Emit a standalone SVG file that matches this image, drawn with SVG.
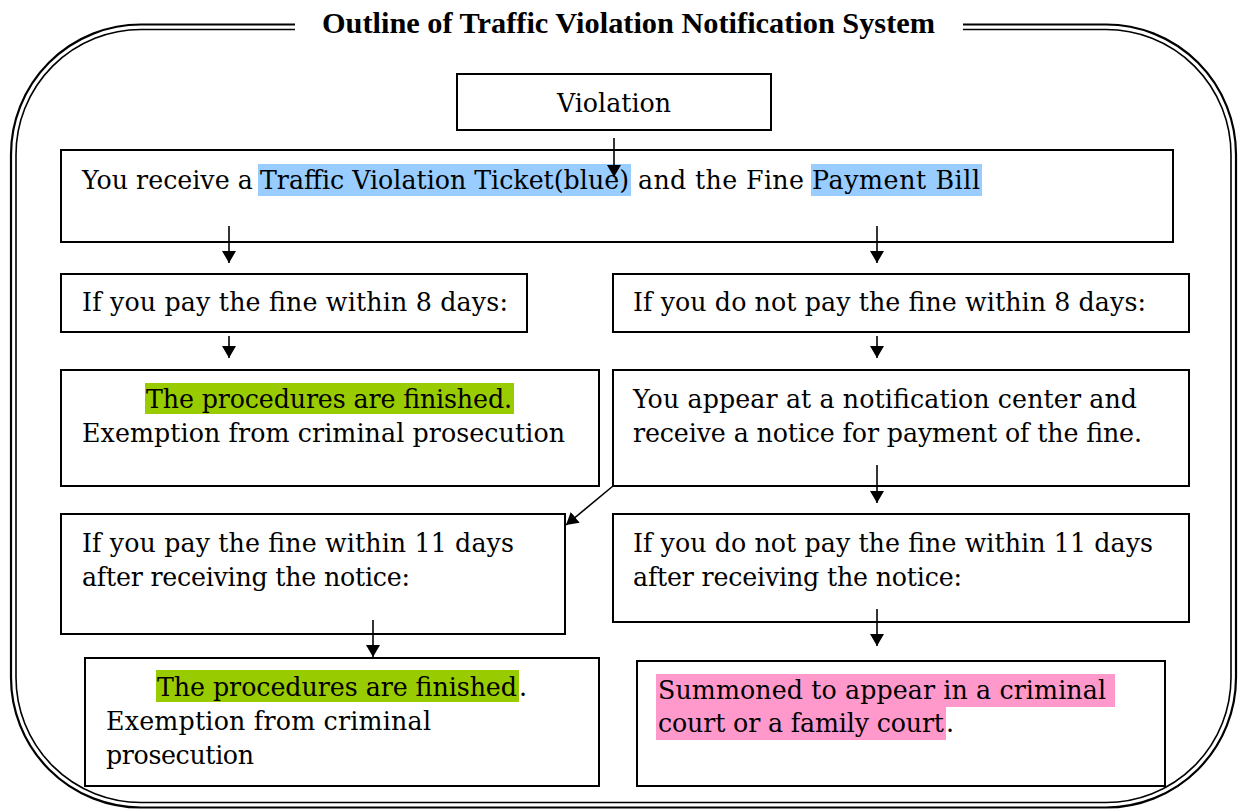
<svg xmlns="http://www.w3.org/2000/svg" width="1238" height="810" viewBox="0 0 1238 810">
<defs>
<marker id="ah" viewBox="0 0 12 14" refX="12" refY="7" markerWidth="12" markerHeight="14" markerUnits="userSpaceOnUse" orient="auto">
<path d="M0,0 L12,7 L0,14 Z" fill="#000"/>
</marker>
<style>
.box{fill:#fff;stroke:#000;stroke-width:2}
.t{font-family:"DejaVu Serif","Liberation Serif",serif;font-size:25.3px;fill:#000}
.title{font-family:"Liberation Serif","DejaVu Serif",serif;font-size:29px;font-weight:bold;fill:#000}
.frame{fill:none;stroke:#000}
.conn{stroke:#000;stroke-width:1.6;fill:none;marker-end:url(#ah)}
.hb{fill:#99CCFF}
.hg{fill:#99CC00}
.hp{fill:#FF99CC}
</style>
</defs>
<rect width="1238" height="810" fill="#fff"/>
<g id="frame">
<path class="frame" stroke-width="2.2" d="M295,24.5 H141 A130,130 0 0 0 11,154.5 V677.5 A130,130 0 0 0 141,807.5 H1106 A130,130 0 0 0 1236,677.5 V154.5 A130,130 0 0 0 1106,24.5 H963"/>
<path class="frame" stroke-width="1.6" d="M295,29.5 H141 A125,125 0 0 0 16,154.5 V677.5 A125,125 0 0 0 141,802.5 H1106 A125,125 0 0 0 1231,677.5 V154.5 A125,125 0 0 0 1106,29.5 H963"/>
<text class="title" x="322" y="33" textLength="613" lengthAdjust="spacingAndGlyphs">Outline of Traffic Violation Notification System</text>
</g>
<g id="n-violation">
<rect class="box" x="457" y="74" width="314" height="56"/>
<text class="t" x="614" y="112" text-anchor="middle">Violation</text>
</g>
<g id="n-receive">
<rect class="box" x="61" y="150" width="1112" height="92"/>
<rect class="hb" x="258" y="164" width="373" height="32"/>
<rect class="hb" x="811" y="164" width="171" height="32"/>
<text class="t" x="82" y="189">You receive a</text>
<text class="t" x="260" y="189" textLength="369">Traffic Violation Ticket(blue)</text>
<text class="t" x="638" y="189" textLength="166">and the Fine</text>
<text class="t" x="812" y="189" textLength="168">Payment Bill</text>
</g>
<g id="n-pay8">
<rect class="box" x="61" y="274" width="466" height="58"/>
<text class="t" x="82" y="311" textLength="426">If you pay the fine within 8 days:</text>
</g>
<g id="n-nopay8">
<rect class="box" x="613" y="274" width="576" height="58"/>
<text class="t" x="633" y="311" textLength="513">If you do not pay the fine within 8 days:</text>
</g>
<g id="n-finished1">
<rect class="box" x="61" y="370" width="538" height="116"/>
<rect class="hg" x="145" y="383" width="369" height="31"/>
<text class="t" x="146" y="408" textLength="366">The procedures are finished.</text>
<text class="t" x="82" y="442" textLength="483">Exemption from criminal prosecution</text>
</g>
<g id="n-appear">
<rect class="box" x="613" y="370" width="576" height="116"/>
<text class="t" x="633" y="408" textLength="504">You appear at a notification center and</text>
<text class="t" x="633" y="442" textLength="509">receive a notice for payment of the fine.</text>
</g>
<g id="n-pay11">
<rect class="box" x="61" y="514" width="504" height="120"/>
<text class="t" x="82" y="552" textLength="432">If you pay the fine within 11 days</text>
<text class="t" x="82" y="586" textLength="328">after receiving the notice:</text>
</g>
<g id="n-nopay11">
<rect class="box" x="613" y="514" width="576" height="108"/>
<text class="t" x="633" y="552" textLength="520">If you do not pay the fine within 11 days</text>
<text class="t" x="633" y="586" textLength="329">after receiving the notice:</text>
</g>
<g id="n-finished2">
<rect class="box" x="85" y="658" width="514" height="128"/>
<rect class="hg" x="156" y="670" width="363" height="32"/>
<text class="t" x="157" y="696" textLength="360">The procedures are finished</text>
<text class="t" x="519" y="696">.</text>
<text class="t" x="106" y="730" textLength="325">Exemption from criminal</text>
<text class="t" x="106" y="764" textLength="148">prosecution</text>
</g>
<g id="n-summoned">
<rect class="box" x="637" y="661" width="528" height="125"/>
<rect class="hp" x="656" y="674" width="459" height="33"/>
<rect class="hp" x="656" y="707" width="290" height="33"/>
<text class="t" x="658" y="699" textLength="448">Summoned to appear in a criminal</text>
<text class="t" x="658" y="732" textLength="286">court or a family court</text>
<text class="t" x="946" y="732">.</text>
</g>
<g id="connectors">
<line class="conn" x1="614" y1="138" x2="614" y2="177"/>
<line class="conn" x1="229" y1="226" x2="229" y2="263"/>
<line class="conn" x1="877" y1="226" x2="877" y2="263"/>
<line class="conn" x1="229" y1="336" x2="229" y2="358"/>
<line class="conn" x1="877" y1="336" x2="877" y2="358"/>
<line class="conn" x1="613" y1="486" x2="566" y2="525"/>
<line class="conn" x1="877" y1="465" x2="877" y2="503"/>
<line class="conn" x1="373" y1="620" x2="373" y2="657"/>
<line class="conn" x1="877" y1="609" x2="877" y2="646"/>
</g>
</svg>
